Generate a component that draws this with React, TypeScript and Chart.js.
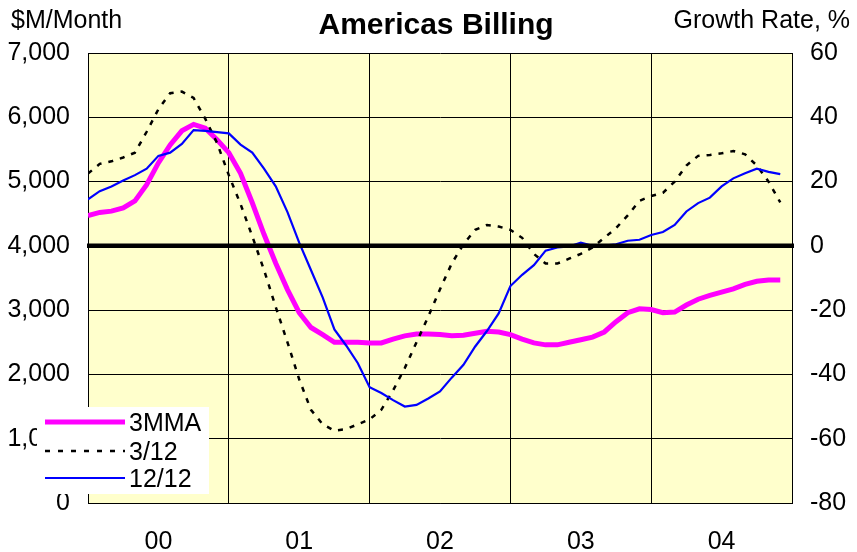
import React, { useEffect, useRef } from "react";
import { Chart, registerables } from "chart.js";

Chart.register(...registerables);

const yearLabels = ["00", "01", "02", "03", "04"];
const leftTicks = [0, 1000, 2000, 3000, 4000, 5000, 6000, 7000];
const rightTicks = [-80, -60, -40, -20, 0, 20, 40, 60];

// 3-month moving average billings, $M/month, Jan 2000 .. Dec 2004
const mma3 = [
  4470, 4520, 4540, 4590, 4700, 4950, 5290, 5570, 5790, 5890,
  5830, 5650, 5450, 5130, 4670, 4180, 3730, 3320, 2960, 2730,
  2620, 2500, 2500, 2500, 2490, 2490, 2550, 2600, 2630, 2630,
  2620, 2600, 2610, 2640, 2670, 2660, 2620, 2550, 2490, 2460,
  2460, 2500, 2540, 2580, 2660, 2820, 2960, 3020, 3010, 2960,
  2970, 3080, 3170, 3230, 3280, 3330, 3400, 3450, 3470, 3470,
];

// 3/12 growth rate, %
const growth312 = [
  22.5, 25.5, 26.3, 27.5, 29, 35.5, 42.5, 47.5, 48, 46,
  39.5, 32, 22, 13, 3, -7.5, -19, -30, -41.5, -51,
  -55.5, -57.5, -57, -55.5, -54, -51, -45, -38, -30, -22,
  -13.5, -5.5, 0.5, 5, 6.5, 6, 5, 2.5, -2.5, -5.5,
  -5.5, -4, -2.5, -0.5, 2.5, 5.5, 9.5, 14, 15.5, 16.5,
  20, 25, 28, 28.3, 28.8, 29.5, 28.5, 25, 20, 13.5,
];

// 12/12 growth rate, %
const growth1212 = [
  14.5, 17, 18.5, 20.3, 22, 24, 28, 29, 31.7, 36,
  35.8, 35.4, 35, 31.5, 29, 24, 18.5, 10.5, 1, -7.5,
  -16, -26, -31, -36.5, -44, -45.8, -48, -50, -49.5, -47.5,
  -45.3, -41, -37, -31.3, -26.5, -21, -12.5, -9, -6, -1.5,
  -0.5, -0.2, 1, 0, 0.1, 0.5, 1.6, 1.9, 3.4, 4.3,
  6.5, 10.7, 13.3, 15, 18.5, 21, 22.6, 24, 23, 22.3,
];

const seriesNames = ["3MMA", "3/12", "12/12"];
const FONT = "Arial, 'Liberation Sans', sans-serif";

const toPts = (arr: number[]) => arr.map((v, i) => ({ x: i, y: v }));

export default function App() {
  const ref = useRef<HTMLCanvasElement | null>(null);

  useEffect(() => {
    if (!ref.current) return;
    const xTickVals: number[] = [];
    for (let v = 0; v <= yearLabels.length * 12; v += 6) xTickVals.push(v);

    const decor = {
      id: "decor",
      beforeDraw(chart: any) {
        const { ctx, chartArea: a } = chart;
        ctx.save();
        ctx.fillStyle = "#FFFFCC";
        ctx.fillRect(a.left, a.top, a.right - a.left, a.bottom - a.top);
        ctx.restore();
      },
      afterDatasetsDraw(chart: any) {
        const { ctx, chartArea: a } = chart;
        const y = chart.scales.yL.getPixelForValue(4000);
        ctx.save();
        ctx.strokeStyle = "#000";
        ctx.lineWidth = 4.5;
        ctx.beginPath();
        ctx.moveTo(a.left - 1, y);
        ctx.lineTo(a.right + 2, y);
        ctx.stroke();
        ctx.restore();
      },
      afterDraw(chart: any) {
        const { ctx } = chart;
        ctx.save();
        ctx.fillStyle = "#000";
        ctx.textBaseline = "alphabetic";
        ctx.font = `bold 30px ${FONT}`;
        ctx.textAlign = "center";
        ctx.fillText("Americas Billing", 436, 34);
        ctx.font = `25px ${FONT}`;
        ctx.textAlign = "left";
        ctx.fillText("$M/Month", 11, 28);
        ctx.textAlign = "right";
        ctx.fillText("Growth Rate, %", 850, 28);

        // legend
        ctx.fillStyle = "#fff";
        ctx.fillRect(37, 407, 172, 87);
        const rows = [422, 451, 478];
        const styles = [
          { c: "#FF00FF", w: 5, d: [] as number[] },
          { c: "#000", w: 2.5, d: [5, 8] },
          { c: "#0000FF", w: 2.2, d: [] as number[] },
        ];
        rows.forEach((y, i) => {
          const s = styles[i];
          ctx.strokeStyle = s.c;
          ctx.lineWidth = s.w;
          ctx.setLineDash(s.d);
          ctx.beginPath();
          ctx.moveTo(45, y);
          ctx.lineTo(125, y);
          ctx.stroke();
          ctx.setLineDash([]);
          ctx.fillStyle = "#000";
          ctx.font = `25px ${FONT}`;
          ctx.textAlign = "left";
          ctx.textBaseline = "middle";
          ctx.fillText(seriesNames[i], 129, y + 2);
        });
        ctx.restore();
      },
    };

    const chart = new Chart(ref.current, {
      type: "line",
      data: {
        datasets: [
          {
            label: seriesNames[0],
            data: toPts(mma3),
            yAxisID: "yL",
            borderColor: "#FF00FF",
            borderWidth: 5,
            pointRadius: 0,
            tension: 0,
            order: 3,
          },
          {
            label: seriesNames[1],
            data: toPts(growth312),
            yAxisID: "yR",
            borderColor: "#000000",
            borderWidth: 2.5,
            borderDash: [5, 7],
            pointRadius: 0,
            tension: 0,
            order: 2,
          },
          {
            label: seriesNames[2],
            data: toPts(growth1212),
            yAxisID: "yR",
            borderColor: "#0000FF",
            borderWidth: 2.2,
            pointRadius: 0,
            tension: 0,
            order: 1,
          },
        ],
      },
      options: {
        responsive: false,
        animation: false,
        devicePixelRatio: 1,
        layout: { padding: { top: 53, left: 0, right: 0, bottom: 0 } },
        plugins: {
          legend: { display: false },
          tooltip: { enabled: false },
          title: { display: false },
        },
        scales: {
          x: {
            type: "linear",
            min: 0,
            max: yearLabels.length * 12,
            afterBuildTicks: (s: any) => {
              s.ticks = xTickVals.map((v) => ({ value: v }));
            },
            afterFit: (s: any) => {
              s.height = 49;
            },
            grid: {
              color: (c: any) =>
                c.tick && c.tick.value % 12 === 0 ? "#000" : "rgba(0,0,0,0)",
              lineWidth: 1,
              drawTicks: false,
            },
            border: { display: true, color: "#000", width: 1 },
            ticks: {
              autoSkip: false,
              maxRotation: 0,
              padding: 24,
              color: "#000",
              font: { family: FONT, size: 25 },
              callback: (v: any) =>
                v % 12 === 6 ? yearLabels[(v - 6) / 12] : "",
            },
          },
          yL: {
            position: "left",
            min: 0,
            max: 7000,
            afterBuildTicks: (s: any) => {
              s.ticks = leftTicks.map((v) => ({ value: v }));
            },
            afterFit: (s: any) => {
              s.width = 88;
            },
            grid: { color: "#000", lineWidth: 1, drawTicks: false },
            border: { display: true, color: "#000", width: 1 },
            ticks: {
              padding: 18,
              color: "#000",
              font: { family: FONT, size: 25 },
              callback: (v: any) => Number(v).toLocaleString("en-US"),
            },
          },
          yR: {
            position: "right",
            min: -80,
            max: 60,
            afterBuildTicks: (s: any) => {
              s.ticks = rightTicks.map((v) => ({ value: v }));
            },
            afterFit: (s: any) => {
              s.width = 65;
            },
            grid: { display: false, drawTicks: false },
            border: { display: true, color: "#000", width: 1 },
            ticks: {
              padding: 18,
              color: "#000",
              font: { family: FONT, size: 25 },
              callback: (v: any) => String(v),
            },
          },
        },
      },
      plugins: [decor],
    } as any);

    return () => chart.destroy();
  }, []);

  return (
    <div style={{ position: "absolute", left: 0, top: 0, width: 857, height: 552, background: "#fff" }}>
      <canvas ref={ref} width={857} height={552} />
    </div>
  );
}
